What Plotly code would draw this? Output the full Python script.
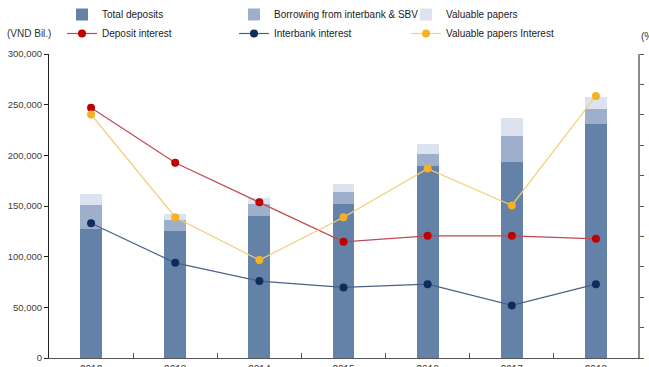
import plotly.graph_objects as go

# Funding structure (VND billion) and interest rates (%), 2012-2018
years = ["2012", "2013", "2014", "2015", "2016", "2017", "2018"]
total_deposits = [127600, 125600, 140400, 151700, 189500, 193100, 231200]
borrowing_interbank_sbv = [23700, 10600, 11900, 12300, 11800, 26300, 14200]
valuable_papers = [10500, 5900, 5900, 7700, 9900, 17800, 12500]

deposit_interest = [8.23, 6.42, 5.12, 3.82, 4.02, 4.02, 3.92]
interbank_interest = [4.43, 3.13, 2.53, 2.32, 2.43, 1.73, 2.43]
valuable_papers_interest = [8.01, 4.63, 3.22, 4.63, 6.23, 5.02, 8.62]

FONT = "Liberation Sans, Arial, sans-serif"
W, H = 649, 367
L, R, T, B = 49, 11, 54, 9
PH = H - T - B

fig = go.Figure()

bar_specs = [
    ("Total deposits", total_deposits, "#6482A8"),
    ("Borrowing from interbank & SBV", borrowing_interbank_sbv, "#9DAFCA"),
    ("Valuable papers", valuable_papers, "#DCE3EE"),
]
for name, vals, color in bar_specs:
    fig.add_trace(go.Bar(
        x=years, y=vals, name=name, width=0.26,
        marker=dict(color=color, line=dict(width=0)),
        yaxis="y",
    ))

line_specs = [
    ("Deposit interest", deposit_interest, "#C00000", "#BE4B55"),
    ("Interbank interest", interbank_interest, "#0E2D5C", "#4A6186"),
    ("Valuable papers Interest", valuable_papers_interest, "#F8B122", "#F2CF7A"),
]
for name, vals, mcolor, lcolor in line_specs:
    fig.add_trace(go.Scatter(
        x=years, y=vals, name=name, mode="lines+markers",
        line=dict(color=lcolor, width=1.2),
        marker=dict(color=mcolor, size=8),
        yaxis="y2",
    ))

fig.update_layout(
    width=W, height=H,
    margin=dict(l=L, r=R, t=T, b=B, pad=0),
    paper_bgcolor="white", plot_bgcolor="white",
    barmode="stack",
    font=dict(family=FONT, size=10, color="#333333"),
    showlegend=True,
    legend=dict(
        orientation="h",
        xref="container", yref="container",
        x=62 / W, y=1, xanchor="left", yanchor="top",
        entrywidth=127, entrywidthmode="pixels",
        font=dict(family=FONT, size=10, color="#222222"),
        bgcolor="rgba(0,0,0,0)",
        traceorder="normal",
        tracegroupgap=0,
    ),
    xaxis=dict(
        type="category", range=[-0.5, 6.5],
        showline=True, linecolor="#555555", linewidth=1,
        ticks="inside", tickson="boundaries", ticklen=5, tickcolor="#555555",
        showgrid=False, zeroline=False,
        ticklabelstandoff=2,
        tickfont=dict(family=FONT, size=10, color="#333333"),
        automargin=False,
    ),
    yaxis=dict(
        range=[0, 300000], dtick=50000, tickformat=",d",
        showline=True, linecolor="#222222", linewidth=1,
        ticks="outside", ticklen=4, tickcolor="#222222",
        showgrid=False, zeroline=False,
        tickfont=dict(family=FONT, size=9.5, color="#404040"),
        automargin=False,
    ),
    yaxis2=dict(
        overlaying="y", side="right",
        range=[0, 10], dtick=1,
        showline=True, linecolor="#8C8C8C", linewidth=1.5,
        ticks="outside", ticklen=4, tickcolor="#555555",
        showgrid=False, zeroline=False,
        ticklabelstandoff=3,
        tickfont=dict(family=FONT, size=9.5, color="#A0A0A0"),
        automargin=False,
    ),
    annotations=[
        dict(text="(VND Bil.)", xref="paper", yref="paper",
             x=-44 / (W - L - R), y=1 + 20 / PH,
             xanchor="left", yanchor="middle", showarrow=False,
             font=dict(family=FONT, size=10, color="#333333")),
        dict(text="(%)", xref="paper", yref="paper",
             x=1 + 1 / (W - L - R), y=1 + 17 / PH,
             xanchor="left", yanchor="middle", showarrow=False,
             font=dict(family=FONT, size=10, color="#333333")),
    ],
)

fig.write_html("out.html")
